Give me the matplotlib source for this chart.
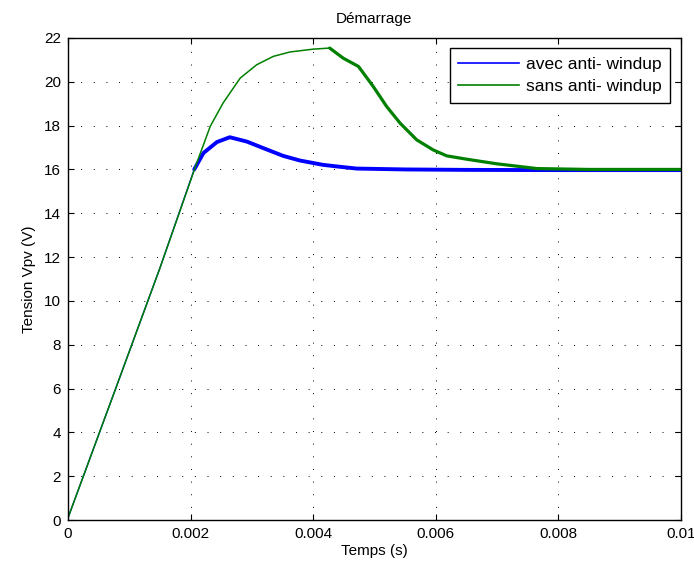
import matplotlib.pyplot as plt
import numpy as np

plt.rcParams['font.family'] = ['Liberation Sans', 'DejaVu Sans']
plt.rcParams['font.size'] = 11

t_avec = [0, 0.00077, 0.00150, 0.00206, 0.00221, 0.00243, 0.00264, 0.00292,
          0.00319, 0.00351, 0.00378, 0.00416, 0.00441, 0.00471, 0.00550,
          0.00650, 0.00800, 0.01]
v_avec = [0.1, 5.94, 11.5, 16.0, 16.75, 17.25, 17.47, 17.27,
          16.97, 16.62, 16.41, 16.21, 16.13, 16.04, 16.0,
          15.98, 15.97, 15.97]

t_sans = [0, 0.00077, 0.00150, 0.00210, 0.00232, 0.00253, 0.00281, 0.00308,
          0.00335, 0.00362, 0.00400, 0.00427, 0.00449, 0.00474, 0.00498,
          0.00520, 0.00542, 0.00569, 0.00596, 0.00618, 0.00650, 0.00699,
          0.00765, 0.00850, 0.01]
v_sans = [0.1, 5.94, 11.5, 16.29, 17.96, 19.03, 20.17, 20.78,
          21.16, 21.36, 21.49, 21.54, 21.08, 20.7, 19.79,
          18.87, 18.11, 17.35, 16.89, 16.62, 16.47, 16.26,
          16.04, 16.0, 16.0]

fig = plt.figure(figsize=(6.94, 5.72), dpi=100)
ax = fig.add_axes([0.098, 0.0909, 0.883, 0.8427])

# thin during the ramp, thicker (noisy) afterwards
ax.plot(t_avec[:4], v_avec[:4], color='#0000ff', lw=1.0)
ax.plot(t_avec[3:], v_avec[3:], color='#0000ff', lw=2.8, solid_capstyle='round')
ax.plot(t_sans[:12], v_sans[:12], color='#008000', lw=1.1)
ax.plot(t_sans[11:], v_sans[11:], color='#008000', lw=2.3, solid_capstyle='round')
ax.plot([], [], color='#0000ff', lw=1.2, label='avec anti- windup')
ax.plot([], [], color='#008000', lw=1.2, label='sans anti- windup')

ax.set_xlim(0, 0.01)
ax.set_ylim(0, 22)
ax.set_xticks(np.arange(0, 0.0101, 0.002))
ax.set_xticklabels(['0', '0.002', '0.004', '0.006', '0.008', '0.01'])
ax.set_yticks(np.arange(0, 23, 2))
ax.tick_params(direction='in', top=True, right=True, length=4, pad=5)
ax.grid(True, color='black', linestyle=(0, (1, 12)), linewidth=0.7)
for s in ax.spines.values():
    s.set_linewidth(1.0)

ax.set_title('Démarrage', fontsize=11, pad=11)
ax.set_xlabel('Temps (s)', labelpad=2)
ax.set_ylabel('Tension Vpv (V)', labelpad=6)

leg = ax.legend(loc='upper right', fancybox=False, edgecolor='black',
                framealpha=1, borderaxespad=0.6, handlelength=3.5,
                handletextpad=0.4, fontsize=12.5, borderpad=0.5,
                labelspacing=0.38)
leg.get_frame().set_linewidth(1.0)

fig.savefig('out.png', dpi=100)
